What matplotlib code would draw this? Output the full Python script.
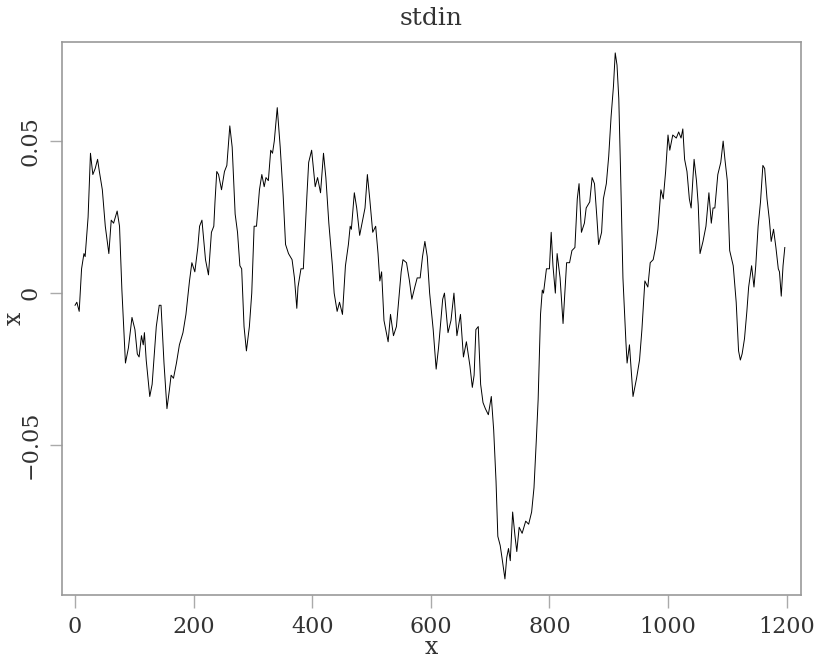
import matplotlib
matplotlib.use("Agg")
from matplotlib import pyplot as plt

# sample index and trace value
t = [0, 3, 7, 11, 15, 17, 22, 26, 30, 34, 38, 41, 46, 51, 57, 61, 65, 71, 75, 79,
     85, 90, 96, 101, 105, 108, 112, 115, 117, 120, 126, 130, 137, 142, 145, 150, 155, 159, 162, 166,
     171, 176, 182, 187, 193, 197, 202, 207, 210, 214, 220, 225, 230, 234, 236, 239, 242, 247, 252, 256,
     261, 265, 270, 274, 278, 281, 285, 289, 294, 298, 302, 306, 311, 315, 319, 322, 326, 330, 333, 336,
     341, 346, 351, 355, 360, 366, 370, 374, 376, 381, 385, 391, 394, 399, 405, 409, 414, 419, 423, 428,
     434, 437, 442, 446, 451, 456, 461, 464, 466, 471, 475, 480, 483, 489, 493, 497, 502, 507, 511, 514,
     517, 521, 528, 532, 537, 542, 550, 553, 559, 564, 568, 573, 577, 582, 586, 590, 594, 598, 604, 609,
     613, 620, 623, 629, 634, 639, 644, 650, 655, 660, 666, 670, 673, 676, 680, 684, 688, 692, 697, 702,
     706, 710, 713, 717, 720, 725, 728, 731, 734, 738, 742, 745, 749, 754, 760, 765, 770, 774, 778, 781,
     785, 788, 790, 795, 800, 803, 806, 810, 813, 818, 823, 829, 834, 838, 843, 847, 850, 854, 859, 862,
     868, 872, 876, 880, 883, 888, 891, 896, 900, 904, 908, 911, 914, 917, 920, 924, 929, 931, 935, 941,
     947, 952, 956, 961, 966, 970, 975, 979, 983, 988, 992, 996, 1000, 1003, 1008, 1014, 1018, 1022, 1025, 1028,
     1032, 1036, 1039, 1044, 1048, 1051, 1054, 1059, 1064, 1069, 1073, 1076, 1079, 1084, 1089, 1093, 1096, 1100, 1104, 1110,
     1115, 1119, 1122, 1125, 1129, 1133, 1136, 1141, 1145, 1148, 1152, 1156, 1160, 1163, 1167, 1171, 1174, 1178, 1182, 1186,
     1188, 1191, 1194, 1197]
vals = [-0.004, -0.003, -0.006, 0.008, 0.013, 0.012, 0.025, 0.046, 0.039, 0.041, 0.044, 0.040, 0.034, 0.022, 0.013, 0.024, 0.023, 0.027, 0.022, 0.001,
        -0.023, -0.018, -0.008, -0.012, -0.020, -0.021, -0.014, -0.017, -0.013, -0.022, -0.034, -0.030, -0.011, -0.004, -0.004, -0.023, -0.038, -0.032, -0.027, -0.028,
        -0.023, -0.017, -0.013, -0.007, 0.004, 0.010, 0.007, 0.015, 0.022, 0.024, 0.011, 0.006, 0.020, 0.022, 0.030, 0.040, 0.039, 0.034, 0.040, 0.042,
        0.055, 0.048, 0.026, 0.020, 0.009, 0.008, -0.011, -0.019, -0.011, 0.000, 0.022, 0.022, 0.034, 0.039, 0.035, 0.038, 0.037, 0.047, 0.046, 0.050,
        0.061, 0.048, 0.032, 0.016, 0.013, 0.011, 0.005, -0.005, 0.002, 0.008, 0.008, 0.032, 0.043, 0.047, 0.035, 0.038, 0.033, 0.046, 0.038, 0.023,
        0.009, 0.000, -0.006, -0.003, -0.007, 0.009, 0.016, 0.022, 0.021, 0.033, 0.028, 0.019, 0.022, 0.028, 0.039, 0.031, 0.020, 0.022, 0.013, 0.004,
        0.007, -0.009, -0.016, -0.007, -0.014, -0.011, 0.007, 0.011, 0.010, 0.004, -0.002, 0.002, 0.005, 0.005, 0.012, 0.017, 0.012, 0.000, -0.012, -0.025,
        -0.018, -0.002, 0.000, -0.013, -0.009, 0.000, -0.014, -0.007, -0.021, -0.016, -0.024, -0.031, -0.027, -0.012, -0.011, -0.030, -0.036, -0.038, -0.040, -0.034,
        -0.045, -0.062, -0.080, -0.083, -0.087, -0.094, -0.087, -0.084, -0.088, -0.072, -0.080, -0.085, -0.077, -0.079, -0.075, -0.076, -0.072, -0.064, -0.048, -0.035,
        -0.007, 0.001, 0.000, 0.008, 0.008, 0.020, 0.009, 0.000, 0.013, 0.005, -0.010, 0.010, 0.010, 0.014, 0.015, 0.031, 0.036, 0.020, 0.023, 0.028,
        0.030, 0.038, 0.036, 0.025, 0.016, 0.020, 0.031, 0.036, 0.045, 0.058, 0.068, 0.079, 0.075, 0.064, 0.040, 0.005, -0.016, -0.023, -0.017, -0.034,
        -0.028, -0.022, -0.012, 0.004, 0.002, 0.010, 0.011, 0.015, 0.021, 0.034, 0.031, 0.040, 0.052, 0.047, 0.052, 0.051, 0.053, 0.051, 0.054, 0.044,
        0.040, 0.031, 0.028, 0.044, 0.037, 0.029, 0.013, 0.017, 0.022, 0.033, 0.023, 0.028, 0.028, 0.039, 0.043, 0.050, 0.044, 0.037, 0.014, 0.009,
        -0.003, -0.019, -0.022, -0.020, -0.015, -0.006, 0.002, 0.009, 0.002, 0.009, 0.022, 0.030, 0.042, 0.041, 0.031, 0.024, 0.017, 0.021, 0.015, 0.008,
        0.007, -0.001, 0.009, 0.015]

xticks = [0, 200, 400, 600, 800, 1000, 1200]
yticks = [-0.05, 0, 0.05]
yticklabels = ['\u22120.05', '0', '0.05']

plt.rcParams['font.family'] = ['DejaVu Serif']
fig = plt.figure(figsize=(8.18, 6.61), dpi=100)
ax = fig.add_axes([0.0758, 0.0998, 0.9032, 0.8367])
ax.plot(t, vals, color='black', lw=0.7)
ax.set_xlim(-22, 1224)
ax.set_ylim(-0.0993, 0.0826)

ax.set_xticks(xticks)
ax.set_xticklabels([str(v) for v in xticks], fontsize=16, color='#333333')
ax.set_yticks(yticks)
ax.set_yticklabels(yticklabels, fontsize=16, color='#333333', rotation=90, va='center')
ax.tick_params(axis='both', direction='out', length=9, width=1, color='#aaaaaa', pad=6)
for s in ax.spines.values():
    s.set_color('#999999')
    s.set_linewidth(1.2)

ax.set_xlabel('x', fontsize=17, color='#333333', va='center')
ax.xaxis.set_label_coords(0.5, -0.095)
ax.set_ylabel('x', fontsize=17, color='#333333', va='center')
ax.yaxis.set_label_coords(-0.064, 0.5)
ax.set_title('stdin', fontsize=18, color='#333333', pad=12)

fig.savefig('out.png', dpi=100)
